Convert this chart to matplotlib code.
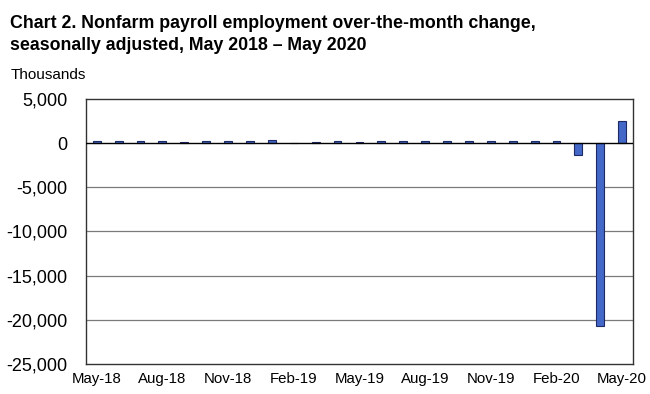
import matplotlib
matplotlib.use("Agg")
import matplotlib.pyplot as plt
import numpy as np

# monthly change, thousands, May 2018 - May 2020
months = [
    "May-18", "Jun-18", "Jul-18", "Aug-18", "Sep-18", "Oct-18", "Nov-18",
    "Dec-18", "Jan-19", "Feb-19", "Mar-19", "Apr-19", "May-19", "Jun-19",
    "Jul-19", "Aug-19", "Sep-19", "Oct-19", "Nov-19", "Dec-19", "Jan-20",
    "Feb-20", "Mar-20", "Apr-20", "May-20",
]
changes = [
    270, 208, 178, 282, 108, 225, 196, 227, 312, 1, 147, 210, 85,
    182, 194, 207, 208, 185, 261, 184, 214, 251, -1373, -20687, 2509,
]
yticks = [5000, 0, -5000, -10000, -15000, -20000, -25000]

plt.rcParams["font.family"] = ["Liberation Sans", "DejaVu Sans"]

fig = plt.figure(figsize=(6.5, 3.94), dpi=100)
ax = fig.add_axes([0.132, 0.0761, 0.842, 0.673])

x = np.arange(len(months))
ax.bar(x, changes, width=0.36, color="#4468C8", edgecolor="#1E2A66",
       linewidth=0.8, zorder=3)

ax.set_xlim(-0.5, len(months) - 0.5)
ax.set_ylim(-25000, 5000)
ax.set_yticks(yticks)
ax.set_yticklabels([f"{v:,}" for v in yticks], fontsize=13)
ax.set_xticks(x[::3])
ax.set_xticklabels(months[::3], fontsize=10.8)
ax.tick_params(length=0)
ax.tick_params(axis="y", pad=13)
ax.tick_params(axis="x", pad=6)

for v in yticks[2:-1]:
    ax.axhline(v, color="#7a7a7a", linewidth=0.9, zorder=1)
ax.axhline(0, color="black", linewidth=1.0, zorder=4)

for s in ax.spines.values():
    s.set_color("#333333")
    s.set_linewidth(1.0)

fig.text(0.016, 0.929, "Chart 2. Nonfarm payroll employment over-the-month change,",
         fontsize=12.8, fontweight="bold", va="baseline", ha="left")
fig.text(0.016, 0.873, "seasonally adjusted, May 2018 \u2013 May 2020",
         fontsize=12.8, fontweight="bold", va="baseline", ha="left")
fig.text(0.017, 0.81, "Thousands", fontsize=11, va="center", ha="left")

fig.savefig("out.png", dpi=100)
